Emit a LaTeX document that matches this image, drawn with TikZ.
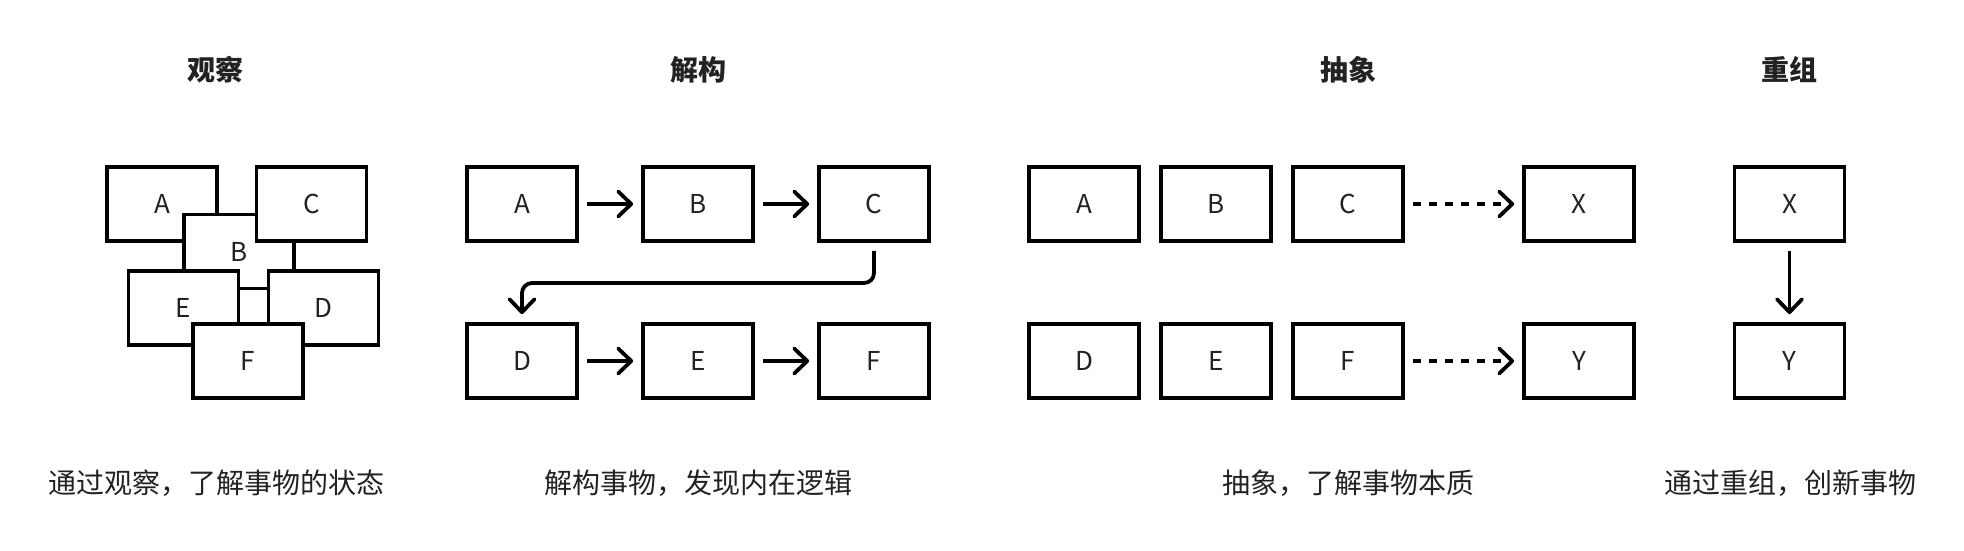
\documentclass[tikz,border=0pt]{standalone}
\usepackage{fontspec}
\setmainfont{Noto Sans CJK SC}
\usetikzlibrary{arrows.meta}
\definecolor{ink}{HTML}{222222}
\begin{document}
\begin{tikzpicture}[x=1pt,y=-1pt,
 box/.style={draw=black, line width=3.8pt, fill=white, minimum width=110pt, minimum height=74pt, inner sep=0pt, font=\fontsize{26}{26}\selectfont, text=ink},
 titletext/.style={font=\fontsize{28}{28}\selectfont\bfseries, text=ink},
 captext/.style={font=\fontsize{28}{28}\selectfont, text=ink},
 arr/.style={line width=3.8pt, -{Straight Barb[length=13pt,width=25pt,line cap=round,line join=round]}, shorten <=8pt, shorten >=8pt},
 darr/.style={arr, dash pattern=on 8pt off 8pt}
]
\useasboundingbox (0,0) rectangle (1964,550);
% titles
\node[titletext] (t1) at (215,70) {观察};
\node[titletext] (t2) at (698,70) {解构};
\node[titletext] (t3) at (1348,70) {抽象};
\node[titletext] (t4) at (1789,70) {重组};
% captions
\node[captext] (c1) at (216,483) {通过观察，了解事物的状态};
\node[captext] (c2) at (698,483) {解构事物，发现内在逻辑};
\node[captext] (c3) at (1348,483) {抽象，了解事物本质};
\node[captext] (c4) at (1790,483) {通过重组，创新事物};
% group 1
\node[box] (g1a) at (162,204) {A};
\node[box] (g1b) at (239,251.5) {B};
\node[box] (g1c) at (311.5,204) {C};
\node[box] (g1e) at (183.5,308) {E};
\node[box] (g1d) at (323.5,308) {D};
\node[box] (g1f) at (248,361) {F};
% group 2
\node[box] (g2a) at (522,204) {A};
\node[box] (g2b) at (698,204) {B};
\node[box] (g2c) at (874,204) {C};
\node[box] (g2d) at (522,361) {D};
\node[box] (g2e) at (698,361) {E};
\node[box] (g2f) at (874,361) {F};
\coordinate (g2m) at (698,283);
\draw[arr] (g2a) -- (g2b);
\draw[arr] (g2b) -- (g2c);
\draw[arr] (g2d) -- (g2e);
\draw[arr] (g2e) -- (g2f);
\draw[arr, rounded corners=10pt] (g2c.south) |- (g2m) -| (g2d.north);
% group 3
\node[box] (g3a) at (1084,204) {A};
\node[box] (g3b) at (1216,204) {B};
\node[box] (g3c) at (1348,204) {C};
\node[box] (g3x) at (1579,204) {X};
\node[box] (g3d) at (1084,361) {D};
\node[box] (g3e) at (1216,361) {E};
\node[box] (g3f) at (1348,361) {F};
\node[box] (g3y) at (1579,361) {Y};
\draw[darr] (g3c) -- (g3x);
\draw[darr] (g3f) -- (g3y);
% group 4
\node[box] (g4x) at (1789.5,204) {X};
\node[box] (g4y) at (1789.5,361) {Y};
\draw[arr] (g4x) -- (g4y);
\end{tikzpicture}
\end{document}
